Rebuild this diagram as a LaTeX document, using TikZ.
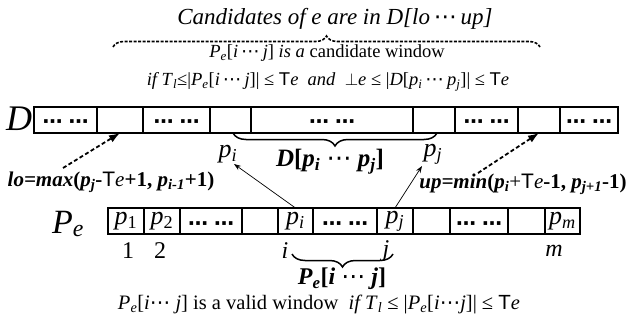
\documentclass[tikz,border=0pt]{standalone}
\usepackage{amsmath}
\usepackage{fontspec}
\setmainfont{Liberation Serif}
\setsansfont{Liberation Sans}
\newfontfamily\dejavu{DejaVu Sans}
\usetikzlibrary{arrows.meta,decorations.pathreplacing}
\newcommand\Te{\textsf{T}\textit{e}}
\newcommand\sbs[1]{$_{\textit{#1}}$}
\newcommand\sbu[1]{$_{\textrm{#1}}$}
\newcommand\bsb[1]{$_{\textbf{\textit{#1}}}$}
\newcommand\dts{{\dejavu\mdseries\upshape ⋯}}
\newcommand\bdts{{\dejavu\bfseries\upshape ⋯}}
\newcommand\fs[1]{\fontsize{#1}{#1}\selectfont}
\newcommand\celldots{\raisebox{-9pt}[0pt][0pt]{\fs{20}\bdts\hspace{0.3em}\bdts}}
\tikzset{
  dcell/.style={draw, line width=1.4pt, inner sep=0pt, outer sep=0pt, minimum height=26pt, font=\fs{26}},
  outerbox/.style={draw, line width=2pt},
  thinarrow/.style={-{Stealth[length=7pt,width=5pt]}, line width=0.7pt},
  dasharrow/.style={-{Latex[length=11pt,width=8pt]}, line width=1.8pt, dash pattern=on 4pt off 2.5pt},
  bracestyle/.style={decorate, decoration={brace, amplitude=11pt}, line width=1.6pt},
  bracemirror/.style={decorate, decoration={brace, amplitude=13pt, mirror}, line width=1.5pt},
  lbl/.style={inner sep=0pt}
}
\begin{document}
\begin{tikzpicture}[x=1pt,y=-1pt]
\useasboundingbox (0,0) rectangle (627,321);

% texts at the top
\node[lbl, font=\fs{23}] (title) at (335,19) {\textit{Candidates of e are in D[lo\,\dts\,up]}};
\draw[bracestyle, dash pattern=on 3pt off 1.5pt] (113,47) -- (540,47);
\node[lbl, font=\fs{18.5}] (cand) at (327,53) {\textit{P}\sbs{e}[\textit{i}\,\dts\,\textit{j}] \textit{is a} candidate window};
\node[lbl, font=\fs{18.5}] (cond) at (328,82) {\textit{if T}\sbs{l}≤|\textit{P}\sbs{e}[\textit{i}\,\dts\,\textit{j}]| ≤ \Te\ \ \textit{and}\ \ $\bot$\textit{e} ≤ |\textit{D}[\textit{p}\sbs{i}\,\dts\,\textit{p}\sbs{j}]| ≤ \Te};

% D row
\node[lbl, font=\fs{36}] (Dlab) at (19,119) {\textit{D}};
\node[dcell, minimum width=63pt] (d1) at (65.5,120) {\celldots};
\node[dcell, minimum width=46pt] (d2) at (120,120) {};
\node[dcell, minimum width=67pt] (d3) at (176.5,120) {\celldots};
\node[dcell, minimum width=41pt] (d4) at (230.5,120) {};
\node[dcell, minimum width=162pt] (d5) at (332,120) {\celldots};
\node[dcell, minimum width=42pt] (d6) at (434,120) {};
\node[dcell, minimum width=63pt] (d7) at (486.5,120) {\celldots};
\node[dcell, minimum width=42pt] (d8) at (539,120) {};
\node[dcell, minimum width=58pt] (d9) at (589,120) {\celldots};
\draw[outerbox] (d1.north west) rectangle (d9.south east);

% brace under D
\draw[bracemirror] (233,133) -- (437,133);
\node[lbl, font=\fs{26}] (lpi) at (228,154) {\textit{p}\sbs{i}};
\node[lbl, font=\fs{26}] (lpj) at (433,154) {\textit{p}\sbs{j}};
\node[lbl, font=\fs{25}] (Dwin) at (330,162) {\textbf{\textit{D}[\textit{p}\bsb{i} \dts\ \textit{p}\bsb{j}]}};

% lo / up labels
\node[lbl, font=\fs{21}] (lo) at (111,182) {\textbf{\textit{lo=max}(\textit{p}\bsb{j}-}\Te\textbf{+1, \textit{p}\bsb{i-1}+1)}};
\node[lbl, font=\fs{21}] (up) at (523,184) {\textbf{\textit{up=min}(\textit{p}\bsb{i}}+\Te\textbf{-1, \textit{p}\bsb{j+1}-1)}};
\coordinate (lostart) at (63,168);
\coordinate (upstart) at (478,173);
\draw[dasharrow] (lostart) -- (d2.south);
\draw[dasharrow] (upstart) -- (d8.south);

% Pe row
\node[lbl, font=\fs{34}] (Pelab) at (68,224) {\textit{P}\sbs{e}};
\node[dcell, minimum width=36pt] (e1) at (126,221) {\textit{p}\sbu{1}};
\node[dcell, minimum width=36pt] (e2) at (162,221) {\textit{p}\sbu{2}};
\node[dcell, minimum width=62pt] (e3) at (211,221) {\celldots};
\node[dcell, minimum width=36pt] (e4) at (260,221) {};
\node[dcell, minimum width=35pt] (e5) at (295.5,221) {\textit{p}\sbs{i}};
\node[dcell, minimum width=64pt] (e6) at (345,221) {\celldots};
\node[dcell, minimum width=36pt] (e7) at (395,221) {\textit{p}\sbs{j}};
\node[dcell, minimum width=37pt] (e8) at (431.5,221) {};
\node[dcell, minimum width=58pt] (e9) at (479,221) {\celldots};
\node[dcell, minimum width=37pt] (e10) at (526.5,221) {};
\node[dcell, minimum width=35pt] (e11) at (562.5,221) {\textit{p}\sbs{m}};
\draw[outerbox] (e1.north west) rectangle (e11.south east);

% thin arrows
\coordinate (ai) at (234,164);
\coordinate (aj) at (422,166);
\draw[thinarrow] (e5.north) -- (ai);
\draw[thinarrow] (e7.north) -- (aj);

% indices
\node[lbl, font=\fs{24}] (i1) at (128,251) {1};
\node[lbl, font=\fs{24}] (i2) at (160,251) {2};
\node[lbl, font=\fs{24}] (ii) at (285,251) {\textit{i}};
\node[lbl, font=\fs{24}] (ij) at (386,251) {\textit{j}};
\node[lbl, font=\fs{24}] (im) at (554,251) {\textit{m}};

\draw[bracemirror] (292,254) -- (393,254);
\node[lbl, font=\fs{24}] (Pwin) at (342,279) {\textbf{\textit{P}\bsb{e}[\textit{i} \dts\ \textit{j}]}};
\node[lbl, font=\fs{20.5}] (valid) at (319,304) {\textit{P}\sbs{e}[\textit{i}\dts\ \textit{j}] is a valid window \ \textit{if T}\sbs{l} ≤ |\textit{P}\sbs{e}[\textit{i}\dts\textit{j}]| ≤ \Te};
\end{tikzpicture}
\end{document}
